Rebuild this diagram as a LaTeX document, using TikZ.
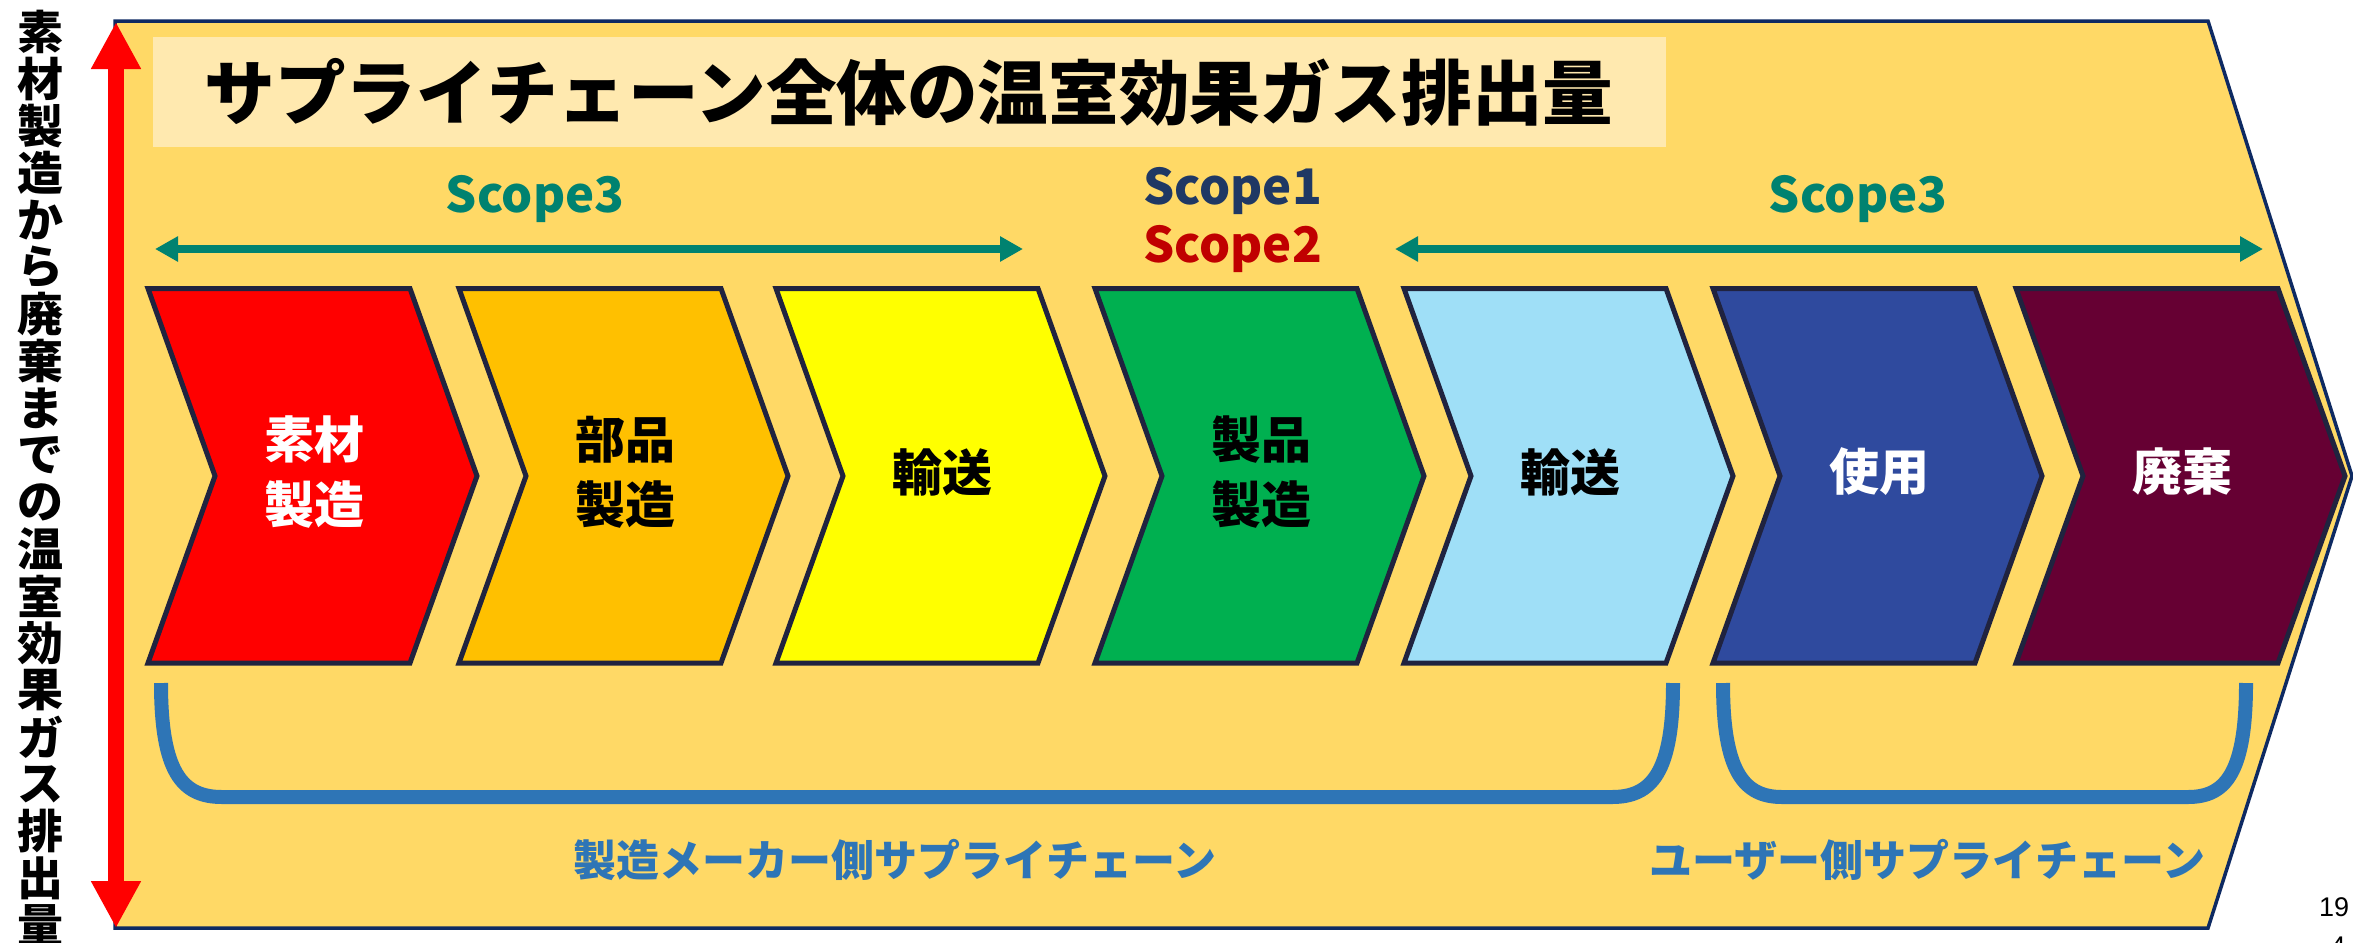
\documentclass[tikz,border=0pt]{standalone}
\usepackage{fontspec}
\newfontfamily\jp{Noto Sans CJK JP}
\newfontfamily\numfont{Liberation Sans}
\usetikzlibrary{arrows.meta}
\definecolor{bgyellow}{HTML}{FFD966}
\definecolor{titlebg}{HTML}{FFE9AF}
\definecolor{outerline}{HTML}{0E2A62}
\definecolor{chevline}{HTML}{20233F}
\definecolor{cred}{HTML}{FF0000}
\definecolor{corange}{HTML}{FFC000}
\definecolor{cyellow}{HTML}{FFFF00}
\definecolor{cgreen}{HTML}{00B050}
\definecolor{clblue}{HTML}{9FDFF7}
\definecolor{cdblue}{HTML}{2F4A9E}
\definecolor{cmaroon}{HTML}{660033}
\definecolor{brblue}{HTML}{2E75B6}
\definecolor{scopeteal}{HTML}{008270}
\definecolor{scopeone}{HTML}{1F3864}
\definecolor{scopetwo}{HTML}{C00000}
\begin{document}
\begin{tikzpicture}[x=0.5pt,y=-0.5pt,
  chev/.style={draw=chevline, line width=2.5pt, line join=miter},
  chevtext/.style={font=\jp\bfseries\fontsize{25pt}{32.5pt}\selectfont, align=center, inner sep=0pt},
  scopetext/.style={font=\jp\bfseries\fontsize{24.5pt}{24.5pt}\selectfont, inner sep=0pt},
  tealarrow/.style={draw=scopeteal, line width=4pt, {Triangle[length=11.5pt,width=12pt]}-{Triangle[length=11.5pt,width=12pt]}},
  redarrow/.style={draw=cred, line width=8pt, {Triangle[length=23.5pt,width=23.5pt]}-{Triangle[length=23.5pt,width=23.5pt]}},
  bracket/.style={draw=brblue, line width=7pt},
  brtext/.style={font=\jp\bfseries\fontsize{21.5pt}{21.5pt}\selectfont, text=brblue, inner sep=0pt},
  vtext/.style={font=\jp\bfseries\fontsize{23pt}{23pt}\selectfont, inner sep=0pt},
  titletext/.style={font=\jp\bfseries\fontsize{35.3pt}{35.3pt}\selectfont, inner sep=0pt},
  pagenum/.style={font=\numfont\fontsize{13.5pt}{13.5pt}\selectfont, inner sep=0pt}
]
\useasboundingbox (0,0) rectangle (2353,942);
% outer shape
\draw[fill=bgyellow, draw=outerline, line width=1.75pt]
  (115,21) -- (2208,21) -- (2352,476) -- (2208,928) -- (115,928) -- cycle;
% red double arrow
\coordinate (rt) at (116,22);
\coordinate (rb) at (116,928);
\draw[redarrow] (rt) -- (rb);
% vertical text
\foreach \ch [count=\i from 0] in {素,材,製,造,か,ら,廃,棄,ま,で,の,温,室,効,果,ガ,ス,排,出,量}{
  \node[vtext] (v\i) at (41,{32+47*\i}) {\ch};
}
% title
\fill[titlebg] (153,37) rectangle (1666,147);
\node[titletext] (title) at (909,92) {サプライチェーン全体の温室効果ガス排出量};
% scope labels
\node[scopetext, text=scopeteal, anchor=base] (s3a) at (535,212) {Scope3};
\node[scopetext, text=scopeone, anchor=base west] (s1) at (1143,204) {Scope1};
\node[scopetext, text=scopetwo, anchor=base west] (s2) at (1143,262) {Scope2};
\node[scopetext, text=scopeteal, anchor=base] (s3b) at (1858,212) {Scope3};
\coordinate (al1) at (155,249);
\coordinate (al2) at (1023,249);
\coordinate (ar1) at (1395,249);
\coordinate (ar2) at (2263,249);
\draw[tealarrow] (al1) -- (al2);
\draw[tealarrow] (ar1) -- (ar2);
% chevrons
\foreach \L/\col/\txt/\tc [count=\k] in {
  145/cred/{素材\\製造}/white,
  456/corange/{部品\\製造}/black,
  773/cyellow/{輸送}/black,
  1092/cgreen/{製品\\製造}/black,
  1401/clblue/{輸送}/black,
  1710/cdblue/{使用}/white,
  2013/cmaroon/{廃棄}/white}{
  \draw[chev, fill=\col] (\L+3,288.5) -- (\L+265,288.5) -- (\L+332,476) -- (\L+265,663) -- (\L+3,663) -- (\L+70,476) -- cycle;
  \node[chevtext, text=\tc] (c\k) at (\L+169,472) {\txt};
}
% brackets
\draw[bracket] (161,683) .. controls (161,772) and (182,797) .. (222,797) -- (1612,797) .. controls (1652,797) and (1673,772) .. (1673,683);
\draw[bracket] (1723,683) .. controls (1723,772) and (1744,797) .. (1782,797) -- (2188,797) .. controls (2226,797) and (2246,772) .. (2246,683);
\node[brtext] (mfr) at (895,860) {製造メーカー側サプライチェーン};
\node[brtext] (usr) at (1927,860) {ユーザー側サプライチェーン};
% page number
\node[pagenum, anchor=base] (pn1) at (2334,916) {19};
\node[pagenum, anchor=base] (pn2) at (2338,955) {4};
\end{tikzpicture}
\end{document}
